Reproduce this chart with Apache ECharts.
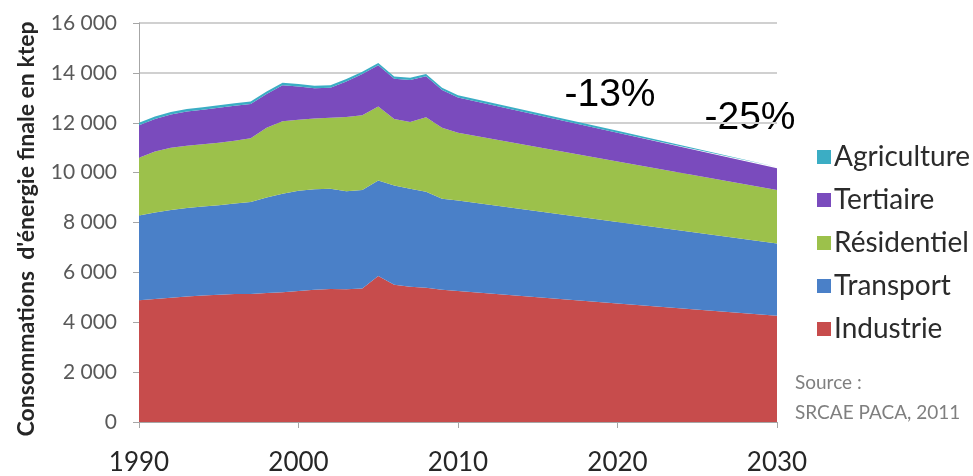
<!DOCTYPE html>
<html>
<head>
<meta charset="utf-8">
<script src="https://cdn.jsdelivr.net/npm/echarts@6/dist/echarts.min.js"></script>
<style>
  html, body { margin: 0; padding: 0; background: #ffffff; }
  #chart { width: 973px; height: 476px; }
</style>
</head>
<body>
<div id="chart"></div>
<script>
// Final energy consumption by sector (ktep), history then projection
const years = [1990, 1991, 1992, 1993, 1994, 1995, 1996, 1997, 1998, 1999, 2000,
               2001, 2002, 2003, 2004, 2005, 2006, 2007, 2008, 2009, 2010, 2020, 2030];

const industrie   = [4880, 4930, 4980, 5030, 5070, 5100, 5130, 5130, 5170, 5200, 5250,
                     5300, 5330, 5320, 5350, 5850, 5500, 5420, 5380, 5300, 5250, 4750, 4260];
const transport   = [3400, 3470, 3520, 3550, 3570, 3590, 3630, 3690, 3830, 3950, 4020,
                     4030, 4020, 3930, 3950, 3830, 3980, 3930, 3850, 3650, 3630, 3270, 2900];
const residentiel = [2320, 2450, 2500, 2500, 2500, 2510, 2520, 2560, 2800, 2910, 2850,
                     2840, 2850, 2980, 3000, 2970, 2670, 2680, 2990, 2850, 2720, 2430, 2140];
const tertiaire   = [1300, 1300, 1330, 1370, 1380, 1400, 1400, 1370, 1350, 1440, 1330,
                     1210, 1200, 1420, 1650, 1660, 1610, 1680, 1640, 1510, 1410, 1150, 880];
const agriculture = [100, 100, 100, 100, 100, 100, 100, 100, 100, 100, 100,
                     100, 100, 100, 100, 90, 90, 90, 90, 90, 90, 80, 50];

const seriesNames = ['Industrie', 'Transport', 'Résidentiel', 'Tertiaire', 'Agriculture'];
const seriesValues = [industrie, transport, residentiel, tertiaire, agriculture];
const seriesColors = ['#c74c4c', '#4a80c8', '#9cc14b', '#7a4bbd', '#3badc4'];

const yTicks = { min: 0, max: 16000, step: 2000 };
const xTicks = { min: 1990, max: 2030, step: 10 };

const yAxisTitle = "Consommations  d'énergie finale en ktep";
const changeLabels = ['-13%', '-25%'];
const sourceLines = ['Source :', 'SRCAE PACA, 2011'];

// The areas sit on a time axis (so the stack adds up the values);
// a matching value axis carries the year labels and ticks.
const yearTime = y => Date.UTC(y, 0, 1);

function pairs(values) {
  return years.map((y, i) => [yearTime(y), values[i]]);
}

const chart = echarts.init(document.getElementById('chart'), null, { renderer: 'canvas' });

const series = seriesNames.map((name, i) => ({
  name: name,
  type: 'line',
  xAxisIndex: 0,
  stack: 'total',
  symbol: 'none',
  showSymbol: false,
  smooth: false,
  lineStyle: { width: 0 },
  areaStyle: { color: seriesColors[i], opacity: 1 },
  itemStyle: { color: seriesColors[i] },
  emphasis: { disabled: true },
  data: pairs(seriesValues[i])
}));

chart.setOption({
  animation: false,
  backgroundColor: '#ffffff',
  textStyle: { fontFamily: 'Lato' },
  grid: { left: 139, right: 196, top: 23, bottom: 51, containLabel: false },
  xAxis: [
    {
      type: 'time',
      min: yearTime(xTicks.min),
      max: yearTime(xTicks.max),
      show: false
    },
    {
      type: 'value',
      position: 'bottom',
      min: xTicks.min,
      max: xTicks.max,
      interval: xTicks.step,
      axisLine: { show: true, onZero: false, lineStyle: { color: '#a6a6a6', width: 1 } },
      axisTick: { show: true, length: 6, lineStyle: { color: '#a6a6a6' } },
      splitLine: { show: false },
      axisLabel: {
        margin: 28,
        fontFamily: 'Lato',
        fontSize: 26,
        color: '#262626',
        formatter: v => String(v)
      }
    }
  ],
  yAxis: {
    type: 'value',
    min: yTicks.min,
    max: yTicks.max,
    interval: yTicks.step,
    axisLine: { show: true, lineStyle: { color: '#a6a6a6', width: 1 } },
    axisTick: { show: true, length: 6, lineStyle: { color: '#a6a6a6' } },
    splitLine: { show: true, lineStyle: { color: '#d0d0d0', width: 2 } },
    axisLabel: {
      margin: 22,
      fontFamily: 'Lato',
      fontSize: 21,
      color: '#595959',
      formatter: v => String(v).replace(/\B(?=(\d{3})+(?!\d))/g, ' ')
    }
  },
  legend: {
    orient: 'vertical',
    left: 812,
    top: 137,
    icon: 'rect',
    itemWidth: 14,
    itemHeight: 14,
    itemGap: 13,
    selectedMode: false,
    data: seriesNames.slice().reverse(),
    textStyle: { fontFamily: 'Lato', fontSize: 28, color: '#2b2b2b', lineHeight: 30, padding: [0, 0, 0, -2] }
  },
  series: series,
  graphic: [
    {
      type: 'text',
      x: 27, y: 229,
      rotation: Math.PI / 2,
      style: {
        text: yAxisTitle,
        font: 'bold 23px Lato',
        fill: '#262626',
        align: 'center',
        verticalAlign: 'middle'
      }
    },
    {
      type: 'text',
      x: 610, y: 95,
      style: { text: changeLabels[0], font: '39px "Liberation Sans"', fill: '#000000', align: 'center', verticalAlign: 'middle' }
    },
    {
      type: 'text',
      x: 750, y: 118,
      style: { text: changeLabels[1], font: '39px "Liberation Sans"', fill: '#000000', align: 'center', verticalAlign: 'middle' }
    },
    {
      type: 'text',
      x: 795, y: 383,
      style: { text: sourceLines[0], font: '19px Lato', fill: '#7f7f7f', align: 'left', verticalAlign: 'middle' }
    },
    {
      type: 'text',
      x: 795, y: 413,
      style: { text: sourceLines[1], font: '19px Lato', fill: '#7f7f7f', align: 'left', verticalAlign: 'middle' }
    }
  ]
});
</script>
</body>
</html>
